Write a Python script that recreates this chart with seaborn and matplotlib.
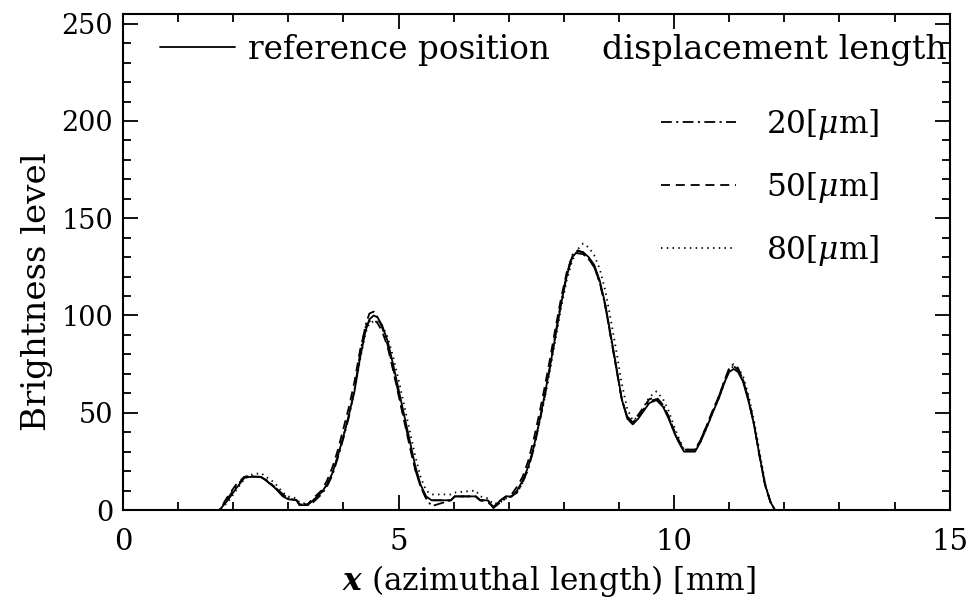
import matplotlib
matplotlib.use("Agg")
import matplotlib.pyplot as plt
from matplotlib.ticker import MultipleLocator
from matplotlib.lines import Line2D
import seaborn as sns
import pandas as pd

# azimuthal position [mm]
x_mm = [0.0, 1.75, 1.9, 2.05, 2.2, 2.3, 2.5, 2.6, 2.75, 2.9,
        3.0, 3.15, 3.2, 3.35, 3.45, 3.6, 3.7, 3.8, 3.9, 4.0,
        4.1, 4.2, 4.3, 4.4, 4.47, 4.55, 4.62, 4.7, 4.8, 4.9,
        5.0, 5.1, 5.2, 5.3, 5.4, 5.5, 5.6, 5.95, 6.02, 6.4,
        6.48, 6.62, 6.72, 6.85, 6.95, 7.05, 7.15, 7.25, 7.35, 7.45,
        7.55, 7.65, 7.75, 7.85, 7.95, 8.05, 8.15, 8.25, 8.35, 8.45,
        8.55, 8.65, 8.75, 8.85, 8.95, 9.05, 9.15, 9.25, 9.35, 9.45,
        9.55, 9.68, 9.8, 9.9, 10.0, 10.1, 10.18, 10.38, 10.48, 10.6,
        10.7, 10.82, 10.92, 11.0, 11.08, 11.16, 11.25, 11.35, 11.45, 11.55,
        11.65, 11.75, 11.83, 13.3]

# brightness at the reference position
ref_level = [0, 0, 5, 11, 16.5, 17, 17, 15, 11.5, 7,
             5.5, 5, 2.5, 2.5, 5, 9, 13, 19, 28, 38,
             49, 61, 78, 92, 98, 100, 99, 95, 87, 75,
             62, 49, 36, 23, 13, 7, 5, 5, 7, 7,
             5, 5, 1.5, 5, 7, 7, 10, 15, 22, 32,
             45, 59, 74, 90, 106, 120, 130, 133, 132.5, 130,
             126, 118, 106, 90, 74, 57, 47, 44, 47, 51,
             55, 56.5, 53, 47, 40, 34, 30, 30, 35, 43,
             50, 58, 66, 71, 72.5, 71, 66, 56, 44, 28,
             13, 4, 0, 0]

# brightness after 20 um displacement
d20_level = [0, 0, 6, 12, 17, 17.5, 17, 15.5, 12, 8,
             6, 5, 3, 2.5, 4, 8, 12, 18, 27, 37,
             48, 62, 80, 95, 101, 102, 99, 94, 85, 73,
             60, 47, 34, 21, 12, 6, 2, 5, 7, 7,
             5, 5, 1, 4, 6, 7, 9, 14, 21, 31,
             44, 58, 74, 91, 107, 121, 131, 133.5, 132.5, 129,
             125, 117, 105, 89, 73, 57, 48, 45, 48, 52,
             56, 57, 54, 48, 40, 34, 31, 31, 36, 44,
             51, 59, 67, 73, 75, 73, 67, 57, 44, 28,
             13, 4, 0, 0]

# brightness after 50 um displacement
d50_level = [0, 0, 7, 13, 17, 17.5, 17, 15, 12, 8,
             6, 5, 3, 3, 6, 10, 15, 22, 31, 42,
             53, 66, 82, 94, 97, 98, 96, 92, 84, 72,
             59, 46, 33, 21, 12, 6, 5, 5, 7, 7,
             5, 4, 1.5, 5, 7, 8, 12, 17, 25, 36,
             49, 63, 78, 94, 109, 122, 130, 132, 131.5, 129,
             125, 117, 105, 89, 73, 57, 48, 45, 49, 53,
             57, 58, 54, 48, 41, 35, 31, 31, 36, 44,
             51, 59, 67, 72, 74, 72, 67, 57, 44, 28,
             13, 4, 0, 0]

# brightness after 80 um displacement
d80_level = [0, 0, 4, 10, 16, 18, 19, 17, 14, 9,
             7, 6, 4, 3, 5, 9, 13, 19, 28, 38,
             49, 61, 77, 91, 96, 97, 97, 95, 89, 79,
             67, 54, 41, 28, 17, 10, 8, 8, 9, 10,
             7, 6, 3, 4, 6, 7, 9, 14, 21, 31,
             44, 57, 72, 88, 104, 118, 128, 134, 137, 135,
             131, 124, 113, 98, 82, 65, 52, 46, 48, 53,
             58, 61, 57, 51, 43, 36, 31, 31, 35, 43,
             50, 58, 66, 72, 74, 73, 69, 59, 46, 30,
             14, 4, 0, 0]

legend_title = "displacement length"
ref_label = "reference position"
disp_labels = ["20[$\\mu$m]", "50[$\\mu$m]", "80[$\\mu$m]"]

df = pd.DataFrame({"x": x_mm, "ref": ref_level, "d20": d20_level,
                   "d50": d50_level, "d80": d80_level})

sns.set_style("ticks")
plt.rcParams["font.family"] = ["DejaVu Serif"]
plt.rcParams["mathtext.fontset"] = "dejavuserif"
for key in ["text.color", "axes.labelcolor", "xtick.color", "ytick.color",
            "axes.edgecolor"]:
    plt.rcParams[key] = "black"

fig = plt.figure(figsize=(9.71, 6.01), dpi=100)
ax = fig.add_axes([0.1267, 0.1514, 0.8513, 0.8253])

styles = {
    "d80": (0, (0.8, 2.4)),
    "d50": (0, (5.0, 3.2)),
    "d20": (0, (6, 2.4, 1.2, 2.4)),
    "ref": "-",
}
LW = 1.3
for key in ["d80", "d50", "d20", "ref"]:
    sns.lineplot(data=df, x="x", y=key, ax=ax, color="black", lw=LW,
                 linestyle=styles[key], estimator=None, sort=False)

ax.set_xlim(0, 15)
ax.set_ylim(0, 255)
ax.xaxis.set_major_locator(MultipleLocator(5))
ax.xaxis.set_minor_locator(MultipleLocator(1))
ax.yaxis.set_major_locator(MultipleLocator(50))
ax.yaxis.set_minor_locator(MultipleLocator(10))
ax.tick_params(which="both", direction="in", top=True, right=True,
               color="black", width=1.3)
ax.tick_params(which="major", length=11)
ax.tick_params(which="minor", length=5.5)
ax.tick_params(axis="x", which="major", pad=13, labelsize=21)
ax.tick_params(axis="y", which="major", pad=7, labelsize=19.5)
for sp in ax.spines.values():
    sp.set_visible(True)
    sp.set_color("black")
    sp.set_linewidth(1.5)

ax.set_xlabel(r"$\mathbfit{x}$ (azimuthal length) [mm]", fontsize=22.5)
ax.set_ylabel("Brightness level", fontsize=24.5)
ax.xaxis.set_label_coords(0.515, -0.106)
ax.yaxis.set_label_coords(-0.0846, 0.44)

# legends
h_ref = Line2D([], [], color="black", lw=LW, linestyle="-")
h20 = Line2D([], [], color="black", lw=LW, linestyle=styles["d20"])
h50 = Line2D([], [], color="black", lw=LW, linestyle=styles["d50"])
h80 = Line2D([], [], color="black", lw=LW, linestyle=styles["d80"])

leg1 = ax.legend([h_ref], [ref_label], loc="upper left",
                 bbox_to_anchor=(0.0447, 0.960), frameon=False, fontsize=23.5,
                 handlelength=2.3, handletextpad=0.4, borderpad=0,
                 borderaxespad=0)
ax.add_artist(leg1)
ax.legend([h20, h50, h80], disp_labels,
          loc="upper right", bbox_to_anchor=(0.915, 0.8125), frameon=False,
          fontsize=22.5, handlelength=2.4, handletextpad=0.95,
          labelspacing=0.9, borderpad=0, borderaxespad=0)
ax.text(0.788, 0.927, legend_title, transform=ax.transAxes, fontsize=24,
        ha="center", va="center")

fig.savefig("out.png", dpi=100)
